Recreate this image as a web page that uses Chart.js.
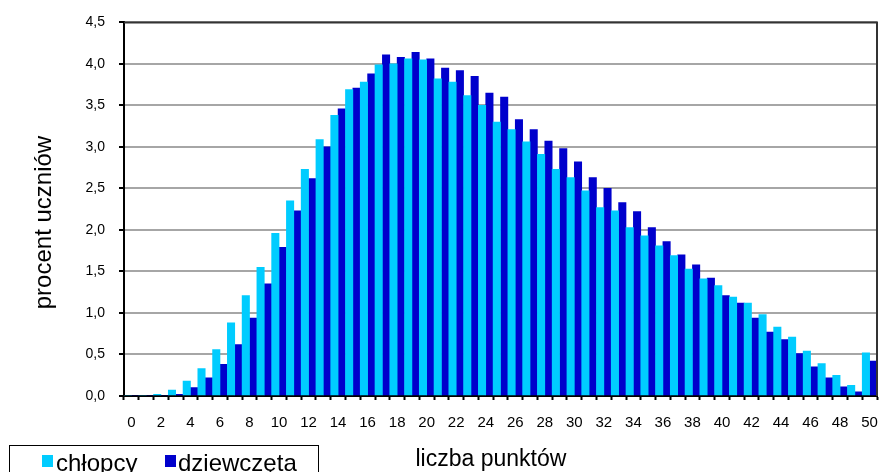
<!DOCTYPE html>
<html lang="pl">
<head>
<meta charset="utf-8">
<title>liczba punktów</title>
<script src="https://cdn.jsdelivr.net/npm/chart.js@4/dist/chart.umd.min.js"></script>
<style>
  html, body { margin: 0; padding: 0; background: #fff; overflow: hidden; }
  #wrap { position: relative; width: 881px; height: 472px; overflow: hidden; }
  #legend {
    position: absolute; left: 9px; top: 445px; width: 310px; height: 40px;
    border: 1px solid #000; box-sizing: border-box;
    font-family: "Liberation Sans", Arial, sans-serif; font-size: 24px; color: #000;
  }
  #legend .sq { position: absolute; top: 9px; width: 11px; height: 12px; }
  #legend .txt { position: absolute; top: 5px; line-height: 24px; white-space: nowrap; }
</style>
</head>
<body>
<div id="wrap">
  <canvas id="chart" width="881" height="472"></canvas>
  <div id="legend"></div>
</div>
<script>
// punkty 0..50
const categories = ['0','1','2','3','4','5','6','7','8','9','10','11','12','13','14','15','16','17','18','19',
    '20','21','22','23','24','25','26','27','28','29','30','31','32','33','34','35','36','37','38','39',
    '40','41','42','43','44','45','46','47','48','49','50'];

// procent uczniów - chłopcy
const chlopcy = [0, 0, 0.02, 0.07, 0.18, 0.33, 0.56, 0.88, 1.21, 1.55,
    1.96, 2.35, 2.73, 3.09, 3.38, 3.69, 3.78, 3.99, 4.00, 4.06,
    4.05, 3.82, 3.78, 3.62, 3.50, 3.30, 3.21, 3.06, 2.91, 2.73,
    2.63, 2.47, 2.27, 2.23, 2.03, 1.93, 1.81, 1.69, 1.53, 1.41,
    1.33, 1.19, 1.12, 0.98, 0.83, 0.71, 0.54, 0.39, 0.25, 0.13,
    0.52];

// procent uczniów - dziewczęta
const dziewczeta = [0, 0, 0, 0.02, 0.10, 0.22, 0.38, 0.62, 0.94, 1.35,
    1.79, 2.23, 2.62, 3.00, 3.46, 3.71, 3.88, 4.11, 4.08, 4.14,
    4.06, 3.95, 3.92, 3.85, 3.65, 3.60, 3.33, 3.21, 3.07, 2.98,
    2.82, 2.63, 2.50, 2.33, 2.22, 2.03, 1.86, 1.70, 1.58, 1.42,
    1.21, 1.12, 0.94, 0.77, 0.68, 0.51, 0.35, 0.22, 0.11, 0.05,
    0.42];

const seriesNames = ['chłopcy', 'dziewczęta'];
const seriesColors = ['#00ccff', '#0000cc'];

const yTicks = { min: 0, max: 4.5, step: 0.5 };

const FONT = '"Liberation Sans", Arial, sans-serif';

// ramka obszaru wykresu (góra i prawa strona)
const framePlugin = {
    id: 'frame',
    afterDraw(chart) {
        const { ctx, chartArea: a } = chart;
        ctx.save();
        ctx.strokeStyle = '#333';
        ctx.lineWidth = 2;
        ctx.beginPath();
        ctx.moveTo(a.left, a.top);
        ctx.lineTo(a.right, a.top);
        ctx.lineTo(a.right, a.bottom);
        ctx.stroke();
        ctx.restore();
    }
};

// Legenda w ramce pod osią (jak w oryginale)
function buildLegend() {
    const el = document.getElementById('legend');
    const sqLeft = [32, 155];
    const txtLeft = [46, 168];
    el.innerHTML = seriesNames.map((name, i) => `
        <span class="sq" style="left:${sqLeft[i]}px;background:${seriesColors[i]}"></span>
        <span class="txt" style="left:${txtLeft[i]}px">${name}</span>
    `).join('');
}

function renderChart() {
    const ctx = document.getElementById('chart').getContext('2d');
    new Chart(ctx, {
        type: 'bar',
        data: {
            labels: categories,
            datasets: [
                { label: seriesNames[0], data: chlopcy, backgroundColor: seriesColors[0],
                  categoryPercentage: 1.0, barPercentage: 1.0 },
                { label: seriesNames[1], data: dziewczeta, backgroundColor: seriesColors[1],
                  categoryPercentage: 1.0, barPercentage: 1.0 }
            ]
        },
        options: {
            responsive: false,
            animation: false,
            layout: { padding: { top: 22, right: 4, bottom: 0, left: 0 } },
            plugins: {
                legend: { display: false },
                tooltip: { enabled: false }
            },
            scales: {
                x: {
                    offset: true,
                    grid: { offset: true, drawOnChartArea: false, drawTicks: true,
                            tickLength: 4, tickColor: '#000', tickWidth: 2 },
                    border: { display: true, color: '#000', width: 2 },
                    ticks: {
                        autoSkip: false, maxRotation: 0, minRotation: 0, padding: 0,
                        color: '#000', font: { family: FONT, size: 15, lineHeight: '46px' },
                        callback: function (val, idx) {
                            return idx % 2 === 0 ? this.getLabelForValue(val) : '';
                        }
                    },
                    title: {
                        display: true, text: 'liczba punktów   ', color: '#000',
                        font: { family: FONT, size: 23, lineHeight: 1.1 },
                        padding: { top: 0, bottom: 0 }
                    },
                    afterFit: (s) => { s.height = 76; }
                },
                y: {
                    min: yTicks.min, max: yTicks.max,
                    grid: { color: '#a6a6a6', lineWidth: 2, drawTicks: true,
                            tickLength: 5, tickColor: '#000', tickWidth: 2 },
                    border: { display: true, color: '#000', width: 2 },
                    ticks: {
                        stepSize: yTicks.step, padding: 14, color: '#000',
                        font: { family: FONT, size: 14 },
                        callback: (v) => v.toFixed(1).replace('.', ',')
                    },
                    title: {
                        display: true, text: 'procent uczniów    ', color: '#000',
                        font: { family: FONT, size: 24, lineHeight: 1.2 },
                        padding: { top: 30, bottom: 0 }
                    },
                    afterFit: (s) => { s.width = 124; }
                }
            }
        },
        plugins: [framePlugin]
    });
}

buildLegend();
renderChart();
</script>
</body>
</html>
